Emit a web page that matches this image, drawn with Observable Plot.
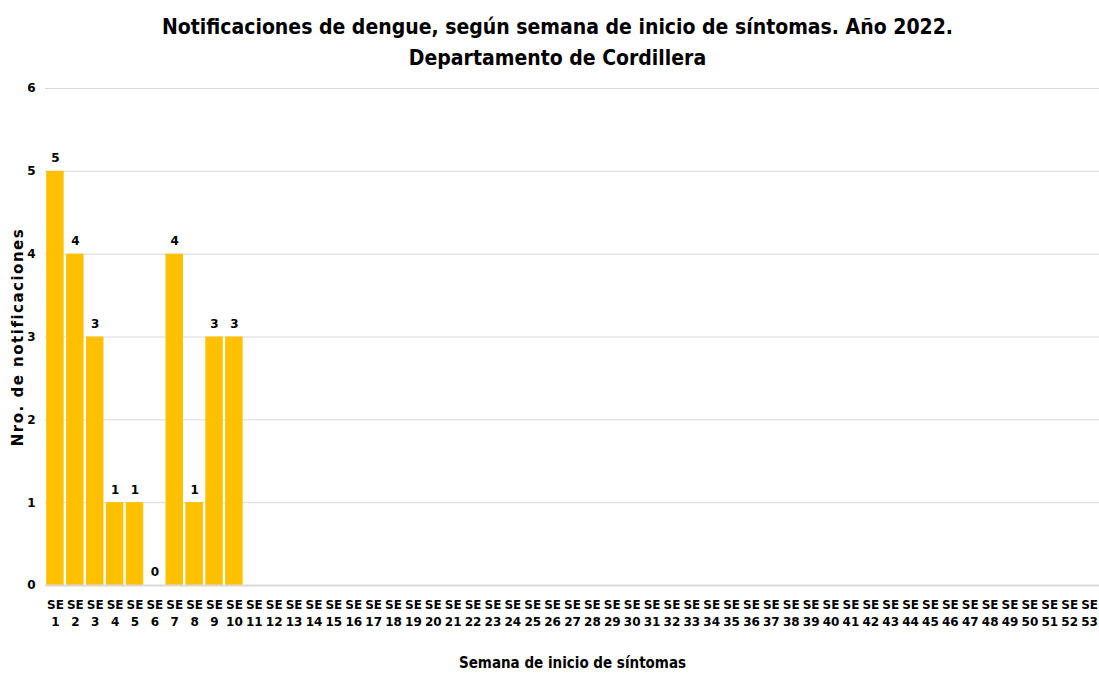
<!DOCTYPE html>
<html>
<head>
<meta charset="utf-8">
<script src="https://cdn.jsdelivr.net/npm/d3@7"></script>
<script src="https://cdn.jsdelivr.net/npm/@observablehq/plot@0.6"></script>
<style>
  body { margin: 0; background: #fff; }
  #title { height: 75px; box-sizing: border-box; padding-top: 12px; text-align: center;
    font-family: "DejaVu Sans Condensed", "DejaVu Sans", sans-serif; font-weight: bold;
    font-size: 21px; line-height: 31px; color: #000; width: 1099px; padding-left: 16px; }
</style>
</head>
<body>
<div id="title">Notificaciones de dengue, según semana de inicio de síntomas. Año 2022.<br>Departamento de Cordillera</div>
<div id="chart"></div>
<script>
const weeks = d3.range(1, 54);
const reportedWeeks = [1, 2, 3, 4, 5, 6, 7, 8, 9, 10];
const counts = [5, 4, 3, 1, 1, 0, 4, 1, 3, 3];
const yTicks = [0, 1, 2, 3, 4, 5, 6];
const yLabel = "Nro. de notificaciones";
const xLabel = "Semana de inicio de síntomas";

const data = reportedWeeks.map((w, i) => ({week: w, count: counts[i]}));

const chart = Plot.plot({
  width: 1099,
  height: 598,
  marginTop: 13,
  marginBottom: 88,
  marginLeft: 45,
  marginRight: 0,
  style: {fontFamily: "'DejaVu Sans', sans-serif", fontWeight: "bold", fontSize: "12px", color: "#000", background: "#fff"},
  x: {type: "band", domain: weeks, paddingInner: 0.12, paddingOuter: 0.06, label: null},
  y: {domain: [0, 6], ticks: yTicks, label: null},
  marks: [
    Plot.gridY(yTicks, {stroke: "#d9d9d9", strokeOpacity: 1, strokeWidth: 1}),
    Plot.barY(data, {x: "week", y: "count", fill: "#FFC000"}),
    Plot.ruleY([0], {stroke: "#d9d9d9", strokeWidth: 2}),
    Plot.text(data, {x: "week", y: "count", text: d => String(d.count), dy: -13, fontWeight: "bold", fontSize: 12}),
    Plot.axisY(yTicks, {tickSize: 0, tickPadding: 10, tickFormat: d => String(d), fontSize: 12, fontWeight: "bold", label: null}),
    Plot.axisX(weeks, {tickSize: 0, tickPadding: 12, tickFormat: d => "SE\n" + d, lineHeight: 1.4, fontSize: 12, fontWeight: "bold", label: null}),
    Plot.text([xLabel], {frameAnchor: "bottom", dy: 82, fontFamily: "'DejaVu Sans Condensed', sans-serif", fontWeight: "bold", fontSize: 15}),
    Plot.text([yLabel], {frameAnchor: "left", textAnchor: "middle", dx: -27, rotate: -90, fontWeight: "bold", fontSize: 15})
  ]
});
d3.select(chart).selectAll("text").filter(function() { return this.textContent === yLabel; })
  .style("letter-spacing", "1.5px");
document.getElementById("chart").appendChild(chart);
</script>
</body>
</html>
